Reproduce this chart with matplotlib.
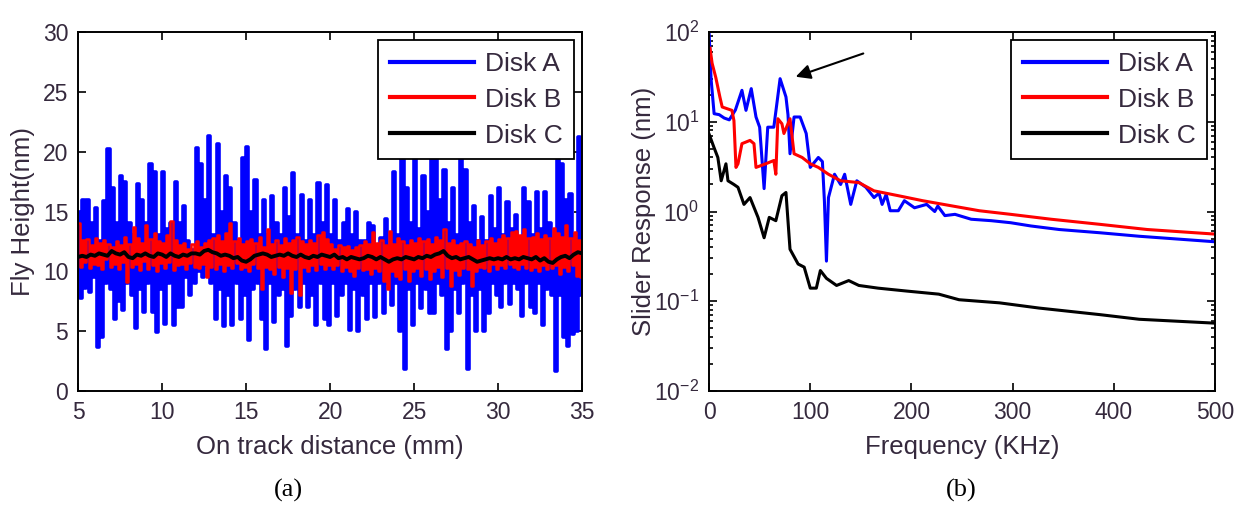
import numpy as np
import matplotlib
matplotlib.use('Agg')
import matplotlib.pyplot as plt

plt.rcParams['font.family'] = ['Liberation Sans', 'DejaVu Sans']
plt.rcParams['mathtext.fontset'] = 'custom'
plt.rcParams['mathtext.rm'] = 'Liberation Sans'

TXT = '#35293d'

# (a) fly height along the track, 8 samples per mm from 5 to 35 mm
disk_a_height = [
    15.0, 7.8, 16.0, 8.6, 16.0, 8.3, 14.0, 9.5,
    15.3, 3.7, 12.5, 4.5, 15.9, 9.0, 20.2, 8.5,
    17.0, 6.0, 14.0, 7.5, 18.0, 6.8, 17.5, 9.0,
    14.0, 8.0, 13.0, 5.3, 17.3, 8.5, 16.0, 6.6,
    14.0, 9.0, 19.0, 6.6, 18.3, 4.9, 13.0, 8.5,
    18.3, 5.6, 13.5, 9.0, 14.0, 5.5, 17.5, 7.0,
    14.0, 7.0, 15.5, 9.5, 12.5, 8.0, 11.8, 9.0,
    20.3, 10.0, 19.0, 9.5, 16.0, 10.5, 21.3, 9.0,
    13.0, 6.0, 20.6, 8.5, 15.0, 5.4, 18.0, 8.0,
    17.0, 5.5, 14.0, 9.0, 12.5, 6.0, 19.5, 8.0,
    20.4, 4.3, 15.0, 8.5, 17.6, 9.0, 13.0, 6.0,
    16.0, 3.5, 13.0, 9.0, 16.3, 5.8, 14.0, 8.0,
    13.0, 8.5, 17.0, 3.8, 14.5, 6.3, 18.2, 8.5,
    13.0, 7.0, 16.4, 9.0, 12.5, 7.0, 16.0, 8.0,
    13.0, 5.5, 17.4, 9.0, 14.0, 6.0, 17.2, 5.5,
    13.0, 9.0, 16.0, 6.3, 12.5, 8.0, 14.0, 9.0,
    15.2, 5.1, 13.0, 8.5, 15.0, 5.0, 12.5, 8.0,
    12.5, 6.0, 14.0, 9.0, 13.8, 6.2, 11.5, 9.0,
    12.8, 6.5, 14.4, 9.0, 12.0, 7.2, 18.3, 9.0,
    13.0, 5.0, 20.0, 1.8, 17.0, 8.5, 14.0, 5.5,
    20.0, 9.0, 13.5, 6.9, 18.0, 8.5, 15.0, 6.5,
    20.0, 6.5, 20.0, 9.0, 16.0, 8.0, 18.5, 3.5,
    14.0, 5.0, 17.0, 8.5, 13.0, 6.5, 19.5, 9.0,
    18.5, 1.8, 14.0, 8.0, 15.5, 5.0, 12.5, 8.5,
    14.5, 5.0, 12.5, 6.5, 16.3, 9.0, 13.5, 8.0,
    17.0, 7.0, 13.0, 9.0, 15.8, 7.3, 13.5, 9.0,
    14.7, 8.5, 12.5, 6.3, 17.0, 9.0, 15.8, 7.0,
    13.0, 6.5, 16.6, 9.0, 13.5, 5.5, 16.6, 8.5,
    14.0, 8.0, 12.5, 1.7, 19.3, 8.0, 19.0, 4.5,
    16.0, 3.8, 16.5, 4.8, 13.0, 5.0, 21.2, 8.0,
    17.8,
]

disk_b_height = [
    14.0, 10.4, 12.6, 10.8, 12.7, 10.3, 12.2, 10.6,
    12.8, 10.5, 12.4, 10.2, 12.6, 11.0, 12.3, 10.4,
    12.0, 10.6, 12.5, 10.2, 12.2, 10.8, 12.9, 9.1,
    12.3, 10.4, 13.7, 10.6, 12.8, 10.1, 12.4, 10.9,
    13.9, 10.2, 12.7, 10.5, 13.2, 10.0, 12.5, 10.7,
    12.4, 10.3, 13.0, 10.8, 14.2, 10.1, 12.6, 10.5,
    12.2, 10.6, 12.4, 10.2, 11.9, 10.7, 12.3, 10.4,
    12.5, 10.3, 12.0, 10.6, 12.4, 9.5, 12.6, 10.4,
    12.8, 10.2, 13.0, 10.6, 12.5, 10.0, 13.2, 10.5,
    14.0, 10.3, 12.5, 10.7, 12.8, 10.2, 12.3, 10.4,
    12.5, 10.0, 12.7, 10.6, 12.4, 10.3, 12.9, 8.5,
    12.0, 10.4, 13.5, 10.2, 12.3, 9.8, 12.6, 10.4,
    12.2, 9.5, 12.8, 10.3, 12.4, 8.2, 12.6, 10.2,
    12.9, 8.0, 12.5, 10.4, 12.3, 10.0, 12.6, 10.5,
    12.4, 10.1, 13.0, 10.6, 13.3, 10.2, 12.7, 10.5,
    12.3, 10.2, 11.9, 10.5, 12.2, 10.0, 12.0, 10.4,
    12.1, 10.0, 11.8, 9.6, 12.0, 10.3, 12.2, 10.1,
    12.5, 10.2, 12.3, 9.8, 13.3, 10.3, 12.4, 10.0,
    12.6, 9.2, 12.2, 8.5, 13.4, 10.0, 12.3, 9.6,
    12.8, 9.4, 12.5, 10.2, 12.2, 9.2, 12.6, 10.0,
    12.4, 10.3, 12.8, 9.6, 12.5, 10.2, 12.7, 9.4,
    12.3, 10.0, 12.9, 10.4, 12.6, 9.5, 13.5, 10.3,
    12.4, 8.8, 12.6, 10.1, 12.2, 9.7, 12.4, 10.3,
    12.5, 10.2, 12.3, 8.8, 12.0, 10.0, 12.6, 10.4,
    12.2, 10.3, 12.5, 10.0, 12.8, 10.6, 12.4, 10.2,
    12.7, 10.5, 13.0, 10.3, 12.8, 10.6, 13.3, 10.4,
    13.4, 10.2, 13.0, 10.6, 13.5, 10.3, 12.8, 10.1,
    12.9, 10.4, 13.2, 10.0, 12.7, 10.5, 13.0, 10.2,
    12.8, 10.3, 13.6, 10.5, 13.2, 9.8, 12.9, 10.4,
    13.9, 10.0, 12.8, 10.5, 13.3, 9.6, 12.6, 9.5,
    11.0,
]

# 4 samples per mm
disk_c_height = [
    11.2, 11.3, 11.2, 11.4, 11.3, 11.5, 11.4, 11.3,
    11.7, 11.5, 11.4, 11.6, 11.2, 11.1, 11.4, 11.3,
    11.5, 11.3, 11.2, 11.5, 11.4, 11.2, 11.5, 11.3,
    11.2, 11.4, 11.3, 11.5, 11.5, 11.4, 11.7, 11.8,
    11.6, 11.5, 11.3, 11.4, 11.3, 11.1, 11.2, 10.9,
    10.8, 11.0, 11.3, 11.4, 11.5, 11.4, 11.2, 11.3,
    11.4, 11.3, 11.5, 11.3, 11.2, 11.4, 11.2, 11.1,
    11.3, 11.2, 11.4, 11.3, 11.2, 11.4, 11.1, 11.2,
    11.0, 11.2, 11.1, 11.0, 11.1, 11.3, 11.2, 11.0,
    11.2, 11.0, 10.8, 11.0, 11.1, 11.0, 11.2, 11.1,
    11.0, 11.2, 11.1, 11.3, 11.2, 11.4, 11.5, 11.7,
    11.3, 11.1, 11.2, 11.0, 11.1, 11.2, 11.0, 10.8,
    10.9, 11.0, 11.1, 11.0, 11.1, 11.0, 11.2, 11.0,
    11.1, 11.0, 11.2, 11.1, 11.0, 11.2, 10.9, 11.1,
    10.8, 10.7, 11.0, 11.2, 11.3, 11.1, 11.4, 11.6,
    11.5,
]

# (b) slider response spectrum
freq_a = [0, 2, 5, 10, 15, 20, 26, 32.5, 36.5, 41.7, 46.4, 50, 54.4, 58, 64,
          70.2, 76, 78, 80, 84, 90, 96, 100, 108, 112, 114, 116, 118, 124,
          130, 134, 140, 146, 155, 163, 168, 171, 175, 179, 187, 193, 203,
          215, 223, 226, 233, 243, 259, 279, 298, 318, 346, 386, 425, 500]
resp_a = [100, 30, 12.3, 12.0, 11.0, 10.5, 13.5, 22.4, 13.4, 23.4, 11.3, 8.7,
          1.8, 8.7, 8.7, 30.2, 18.9, 12, 4.4, 11.3, 11.3, 7.4, 3.1, 4.0, 3.6,
          1.3, 0.28, 1.43, 2.6, 2.0, 2.6, 1.2, 2.2, 1.86, 1.43, 1.6, 1.2,
          1.55, 1.02, 1.02, 1.32, 1.1, 1.2, 1.0, 1.15, 0.9, 0.93, 0.82, 0.79,
          0.75, 0.69, 0.63, 0.58, 0.53, 0.46]

freq_b = [1, 3, 6.7, 10.7, 13, 22.6, 24.6, 26.6, 28.6, 32.5, 40.5, 44.4, 46.4,
          56, 64, 66, 68, 72, 74, 80, 84, 92, 100, 108, 118, 130, 148, 163,
          187, 211, 239, 267, 298, 338, 386, 433, 500]
resp_b = [66, 45, 31, 18.9, 14.6, 13.4, 10.3, 3.1, 3.4, 5.7, 6.2, 5.7, 3.1,
          3.4, 3.7, 2.6, 10.8, 9.5, 7.4, 10.8, 4.4, 4.0, 3.4, 3.1, 2.6, 2.2,
          2.1, 1.7, 1.5, 1.32, 1.16, 1.02, 0.93, 0.82, 0.72, 0.63, 0.56]

freq_c = [0, 4.8, 8.7, 12, 16.7, 18.7, 24.6, 28.6, 34.5, 40.5, 48.4, 54.4,
          59.5, 66, 72, 76, 80, 88, 94, 100, 106, 110, 116, 126, 138, 148,
          167, 195, 227, 247, 287, 326, 386, 425, 500]
resp_c = [7.3, 5.2, 4.0, 2.2, 3.4, 2.2, 2.0, 1.86, 1.2, 1.43, 0.86, 0.51,
          0.86, 0.79, 1.5, 1.63, 0.38, 0.26, 0.24, 0.14, 0.14, 0.22, 0.18,
          0.15, 0.17, 0.15, 0.14, 0.13, 0.12, 0.104, 0.096, 0.084, 0.071,
          0.063, 0.057]

labels = ['Disk A', 'Disk B', 'Disk C']

fig = plt.figure(figsize=(12.47, 5.08), dpi=100)
ax1 = fig.add_axes([0.0626, 0.2303, 0.4042, 0.7067])
ax2 = fig.add_axes([0.5686, 0.2303, 0.4058, 0.7067])

dist_ab = np.linspace(5, 35, len(disk_a_height))
dist_c = np.linspace(5, 35, len(disk_c_height))
ax1.plot(dist_ab, disk_a_height, color='#0000ff', lw=2.6, drawstyle='steps-post', label=labels[0])
ax1.plot(dist_ab, disk_b_height, color='#ff0000', lw=1.8, drawstyle='steps-post', label=labels[1])
ax1.plot(dist_c, disk_c_height, color='black', lw=2.8, label=labels[2])
ax1.set_xlim(5, 35)
ax1.set_ylim(0, 30)
ax1.set_xticks(range(5, 36, 5))
ax1.set_yticks(range(0, 31, 5))
ax1.set_xlabel('On track distance (mm)', fontsize=18.5, color=TXT)
ax1.set_ylabel('Fly Height(nm)', fontsize=18.5, color=TXT)

ax2.semilogy(freq_a, resp_a, color='#0000ff', lw=2.2, label=labels[0])
ax2.semilogy(freq_b, resp_b, color='#ff0000', lw=2.2, label=labels[1])
ax2.semilogy(freq_c, resp_c, color='black', lw=2.2, label=labels[2])
ax2.set_xlim(0, 500)
ax2.set_ylim(1e-2, 1e2)
ax2.set_xticks(range(0, 501, 100))
ax2.set_xlabel('Frequency (KHz)', fontsize=18.5, color=TXT)
ax2.set_ylabel('Slider Response (nm)', fontsize=18.5, color=TXT)
ax2.annotate('', xy=(83, 31), xytext=(155, 59),
             arrowprops=dict(arrowstyle='-|>', color='black', lw=1.5, mutation_scale=22))

for ax, ylx in ((ax1, -0.109), (ax2, -0.128)):
    ax.tick_params(which='both', direction='in', top=True, right=True,
                   labelsize=16.5, labelcolor=TXT, width=1.2)
    ax.tick_params(which='major', length=6, pad=7)
    ax.tick_params(which='minor', length=3)
    for s in ax.spines.values():
        s.set_linewidth(1.4)
    ax.yaxis.set_label_coords(ylx, 0.5)
    ax.yaxis.label.set_va('center')
    ax.xaxis.set_label_coords(0.5, -0.156)
    ax.xaxis.label.set_va('center')
    leg = ax.legend(loc='upper right', fontsize=19, handlelength=3.2,
                    handletextpad=0.4, labelspacing=0.45, borderaxespad=0.3,
                    borderpad=0.45, fancybox=False, framealpha=1, edgecolor='black')
    leg.get_frame().set_linewidth(1.3)
    for t in leg.get_texts():
        t.set_color(TXT)
    for ln in leg.get_lines():
        ln.set_linewidth(3)

fig.text(288 / 1247, 1 - 490 / 508, '(a)', fontsize=19, family='Liberation Serif',
         ha='center', va='center')
fig.text(961 / 1247, 1 - 490 / 508, '(b)', fontsize=19, family='Liberation Serif',
         ha='center', va='center')

fig.savefig('out.png', dpi=100)
